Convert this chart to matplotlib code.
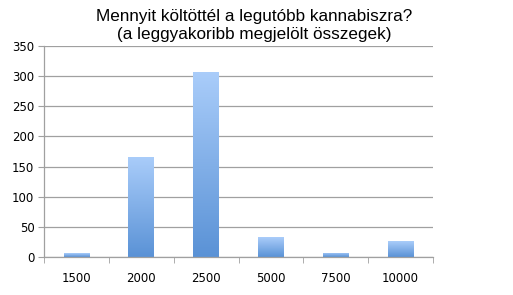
import matplotlib
matplotlib.use('Agg')
import matplotlib.pyplot as plt
from matplotlib.colors import LinearSegmentedColormap
import numpy as np

categories = ['1500', '2000', '2500', '5000', '7500', '10000']
values = [6, 166, 307, 33, 7, 26]

title = 'Mennyit költöttél a legutóbb kannabiszra?\n(a leggyakoribb megjelölt összegek)'

grad = LinearSegmentedColormap.from_list('bar', ['#5a92d6', '#aacdfa'])

fig = plt.figure(figsize=(5.13, 2.95), dpi=100)
ax = fig.add_axes([0.086, 0.129, 0.758, 0.715])

x = np.arange(len(categories))
bars = ax.bar(x, values, width=0.4, color='none', zorder=2)

# gradient fill, light at the top and darker at the bottom of each bar
gradient = np.linspace(0, 1, 256).reshape(-1, 1)
for bar in bars:
    x0, y0 = bar.get_x(), bar.get_y()
    w, h = bar.get_width(), bar.get_height()
    im = ax.imshow(gradient, cmap=grad, aspect='auto', origin='lower',
                   extent=[x0, x0 + w, y0, y0 + h], zorder=2)
    im.set_clip_path(bar)

ax.set_xlim(-0.5, len(categories) - 0.5)
ax.set_ylim(0, 350)
ax.set_yticks(np.arange(0, 351, 50))
ax.set_xticks(x)
ax.set_xticklabels(categories)
ax.set_xticks(np.arange(-0.5, len(categories)), minor=True)

ax.grid(True, axis='y', color='#a0a0a0', linewidth=0.9, zorder=1)
for s in ['top', 'right']:
    ax.spines[s].set_visible(False)
for s in ['left', 'bottom']:
    ax.spines[s].set_color('#a0a0a0')
    ax.spines[s].set_linewidth(0.9)

ax.tick_params(axis='x', which='major', length=0, pad=11, labelsize=8.5)
ax.tick_params(axis='x', which='minor', length=4, color='#a0a0a0', direction='out')
ax.tick_params(axis='y', length=4, color='#a0a0a0', labelsize=8.5, pad=3)
for lbl in ax.get_xticklabels() + ax.get_yticklabels():
    lbl.set_fontfamily('DejaVu Sans')

fig.text(0.495, 0.97, title, ha='center', va='top', fontsize=12.3,
         family='Liberation Sans', linespacing=1.3)

fig.savefig('out.png', dpi=100)
